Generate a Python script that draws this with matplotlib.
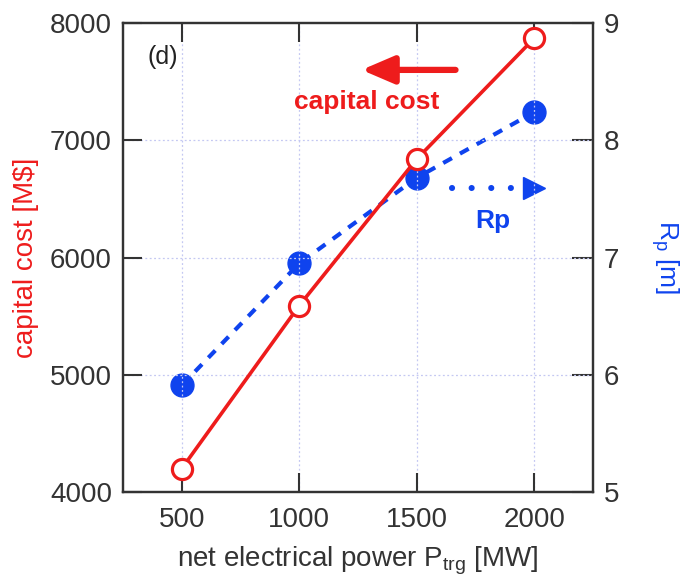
import matplotlib
matplotlib.use("Agg")
import matplotlib.pyplot as plt

plt.rcParams['font.family'] = ['Liberation Sans', 'DejaVu Sans']

# Net electrical power targets [MW]
power = [500, 1000, 1500, 2000]
# Capital cost [M$]
capital_cost = [4200, 5590, 6840, 7870]
# Major radius Rp [m]
rp = [5.91, 6.95, 7.68, 8.24]

x_ticks = [500, 1000, 1500, 2000]
cost_ticks = [4000, 5000, 6000, 7000, 8000]
rp_ticks = [5, 6, 7, 8, 9]

RED = '#ee1c1c'
BLUE = '#0f43ee'
DARK = '#333333'
GRID = '#c4c8f2'

fig = plt.figure(figsize=(6.84, 5.84), dpi=100)
ax = fig.add_axes([123 / 684, 1 - 492 / 584, 470 / 684, 469 / 584])
ax2 = ax.twinx()

ax.set_xlim(250, 2250)
ax.set_ylim(4000, 8000)
ax2.set_ylim(5, 9)

ax.set_xticks(x_ticks)
ax.set_yticks(cost_ticks)
ax2.set_yticks(rp_ticks)

# light dotted grid
for xv in x_ticks:
    ax.axvline(xv, color=GRID, lw=0.9, ls=(0, (1.5, 2)), zorder=0)
for yv in cost_ticks[1:-1]:
    ax.axhline(yv, color=GRID, lw=0.9, ls=(0, (1.5, 2)), zorder=0)

# Rp series (right axis)
ax2.plot(power, rp, color=BLUE, lw=3.0, dashes=(2.4, 2.2),
         marker='o', markersize=16.5, markerfacecolor=BLUE,
         markeredgecolor=BLUE, zorder=3)

# capital cost series (left axis), drawn above the Rp series
ax.set_zorder(ax2.get_zorder() + 1)
ax.patch.set_visible(False)
ax.plot(power, capital_cost, color=RED, lw=2.6, marker='o', markersize=14.5,
        markerfacecolor='white', markeredgecolor=RED, markeredgewidth=2.3,
        zorder=4)

# axis-indicator arrows
ax.annotate('', xy=(1265, 7600), xytext=(1665, 7600),
            arrowprops=dict(arrowstyle='-|>,head_length=1.4,head_width=0.6',
                            lw=4.5, color=RED, mutation_scale=14,
                            shrinkA=0, shrinkB=0))
ax.text(1285, 7330, 'capital cost', color=RED, fontsize=19,
        fontweight='bold', ha='center', va='center')

ax2.plot([1650, 1900], [7.59, 7.59], color=BLUE, lw=4.4,
         dashes=(0.01, 3.2), dash_capstyle='round', solid_capstyle='round')
ax2.plot([2000], [7.59], marker='>', markersize=16, color=BLUE,
         markeredgecolor=BLUE, ls='none')
ax2.text(1825, 7.31, 'Rp', color=BLUE, fontsize=19, fontweight='bold',
         ha='center', va='center')

ax.text(420, 7710, '(d)', color='#222222', fontsize=18, ha='center',
        va='center')

# frame and ticks
for a in (ax, ax2):
    for s in a.spines.values():
        s.set_color(DARK)
        s.set_linewidth(1.6)
ax.tick_params(axis='both', direction='in', length=14, width=1.5,
               colors=DARK, labelsize=20, top=True)
ax.tick_params(axis='x', pad=11)
ax.tick_params(axis='y', pad=8)
ax2.tick_params(axis='y', direction='in', length=15, width=1.5,
                colors=DARK, labelsize=20, pad=8)

ax.set_xlabel('net electrical power P$_{\\mathregular{trg}}$ [MW]',
              fontsize=20, color=DARK, labelpad=8)
ax.set_ylabel('capital cost [M$]', fontsize=20, color=RED, labelpad=8)
ax2.set_ylabel('R$_{\\mathregular{p}}$ [m]', fontsize=19, color=BLUE,
               rotation=-90, labelpad=44)

fig.savefig('out.png', dpi=100)
